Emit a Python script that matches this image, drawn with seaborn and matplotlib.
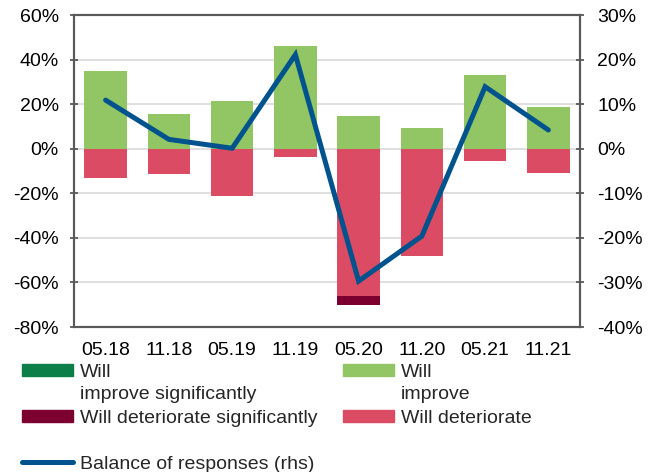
import numpy as np
import matplotlib
matplotlib.use("Agg")
import matplotlib.pyplot as plt
import seaborn as sns
from matplotlib.patches import Patch
from matplotlib.lines import Line2D
from matplotlib.ticker import FuncFormatter

dates = ["05.18", "11.18", "05.19", "11.19", "05.20", "11.20", "05.21", "11.21"]
improve_sig = [0, 0, 0, 0, 0, 0, 0, 0]
improve = [35, 15.4, 21.5, 46, 14.8, 9.1, 33.2, 18.8]
deteriorate = [-13, -11.4, -21.3, -3.8, -66.1, -48.3, -5.5, -10.8]
deteriorate_sig = [0, 0, 0, 0, -4, 0, 0, 0]
balance = [10.9, 2.1, 0.1, 21.1, -29.7, -19.6, 13.9, 4.2]

c_imp_sig = "#0b7f47"
c_imp = "#92c664"
c_det_sig = "#7b0030"
c_det = "#db4b64"
c_line = "#00538c"
c_spine = "#595959"

sns.set_theme(style="white")
plt.rcParams["font.family"] = ["Liberation Sans", "DejaVu Sans"]
plt.rcParams["font.size"] = 14

fig = plt.figure(figsize=(6.48, 4.72), dpi=100)
ax = fig.add_axes([74 / 648, 1 - 327 / 472, (580 - 74) / 648, (327 - 15) / 472])

# stacked bars: draw cumulative totals first, then the inner part on top
det_total = [a + b for a, b in zip(deteriorate, deteriorate_sig)]
imp_total = [a + b for a, b in zip(improve, improve_sig)]
kw = dict(ax=ax, width=0.67, saturation=1, errorbar=None, linewidth=0)
sns.barplot(x=dates, y=det_total, color=c_det_sig, **kw)
sns.barplot(x=dates, y=deteriorate, color=c_det, **kw)
sns.barplot(x=dates, y=imp_total, color=c_imp_sig, **kw)
sns.barplot(x=dates, y=improve, color=c_imp, **kw)

ax.set_ylim(-80, 60)
ax.set_yticks(range(-80, 61, 20))
ax.yaxis.set_major_formatter(FuncFormatter(lambda v, p: f"{v:.0f}%"))
ax.grid(axis="y", color="#d9d9d9", linewidth=1.2)
ax.set_axisbelow(True)

ax2 = ax.twinx()
sns.lineplot(x=np.arange(len(dates)), y=balance, ax=ax2, color=c_line,
             linewidth=3.6, solid_capstyle="round", solid_joinstyle="miter")
ax2.set_ylim(-40, 30)
ax2.set_yticks(range(-40, 31, 10))
ax2.yaxis.set_major_formatter(FuncFormatter(lambda v, p: f"{v:.0f}%"))
ax.set_xlim(-0.5, len(dates) - 0.5)

for a in (ax, ax2):
    for s in a.spines.values():
        s.set_color(c_spine)
        s.set_linewidth(1.5)
    a.tick_params(axis="y", direction="inout", length=6, width=1.3,
                  color=c_spine, labelsize=14, labelcolor="black")
ax.tick_params(axis="y", pad=8)
ax2.tick_params(axis="y", pad=9.5)
ax.tick_params(axis="x", length=0, pad=11, labelsize=14, labelcolor="black")
ax2.set_ylabel("")

handles = [
    Patch(color=c_imp_sig), Patch(color=c_det_sig),
    Line2D([], [], color=c_line, linewidth=3.6, solid_capstyle="round"),
    Patch(color=c_imp), Patch(color=c_det),
]
labels = ["Will", "Will deteriorate significantly", "Balance of responses (rhs)",
          "Will", "Will deteriorate"]
leg = fig.legend(handles, labels, ncol=2, loc="upper left",
                 bbox_to_anchor=(22 / 648, 1 - 364 / 472), frameon=False,
                 handlelength=2.63, handleheight=0.55, handletextpad=0.36,
                 columnspacing=1.3, labelspacing=1.48, borderaxespad=0,
                 borderpad=0, fontsize=14)

# second lines of the wrapped "Will / improve..." labels
fig.canvas.draw()
inv = fig.transFigure.inverted()
for idx, txt in [(0, "improve significantly"), (3, "improve")]:
    bb = leg.get_texts()[idx].get_window_extent()
    x, y = inv.transform((bb.x0, bb.y0 - 22))
    fig.text(x, y, txt, fontsize=14, va="bottom", ha="left")

fig.savefig("out.png", dpi=100)
